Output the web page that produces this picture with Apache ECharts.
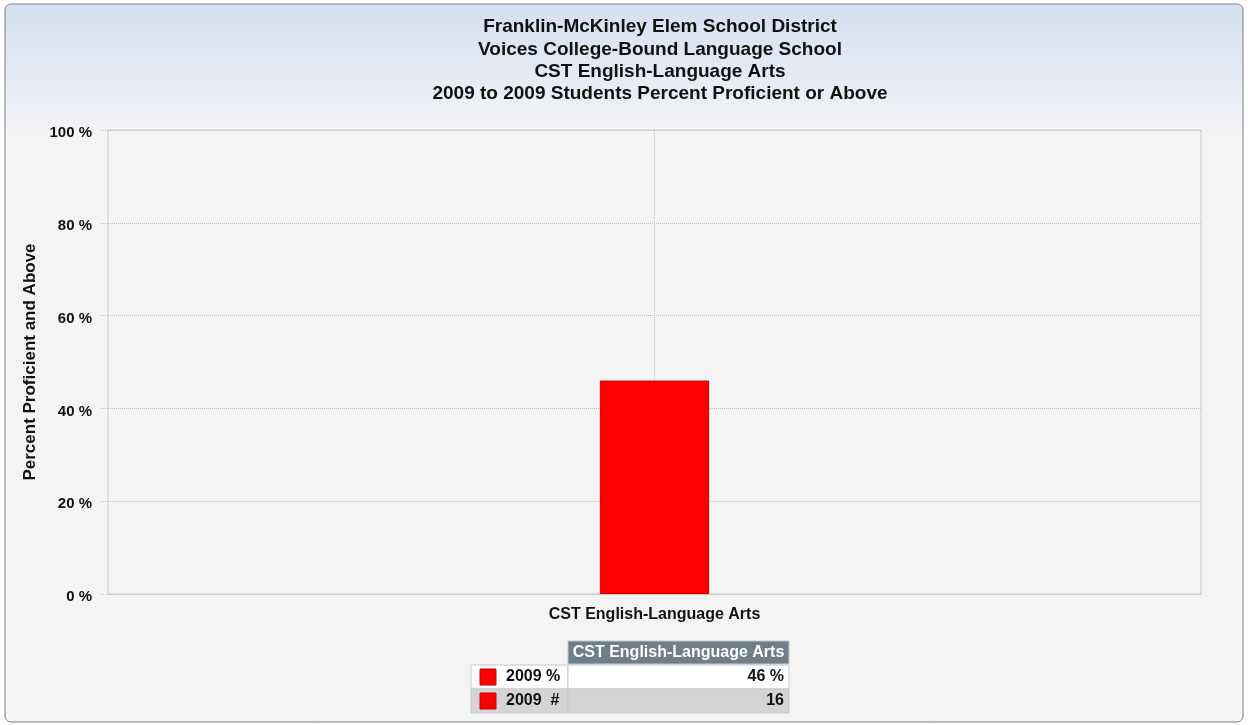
<!DOCTYPE html>
<html>
<head>
<meta charset="utf-8">
<script src="https://cdn.jsdelivr.net/npm/echarts@6/dist/echarts.min.js"></script>
<style>html,body{margin:0;padding:0;background:#fff;}#c{width:1248px;height:725px;}</style>
</head>
<body>
<div id="c"></div>
<script>
var titleLines = ['Franklin-McKinley Elem School District','Voices College-Bound Language School','CST English-Language Arts','2009 to 2009 Students Percent Proficient or Above'];
var categories = ['CST English-Language Arts'];
var seriesName = '2009 %';
var percentValues = [46];
var countName = '2009  #';
var countValues = [16];
var yTicks = [0, 20, 40, 60, 80, 100];
var yAxisName = 'Percent Proficient and Above';

var FONT = 'Liberation Sans, Arial, sans-serif';
var chart = echarts.init(document.getElementById('c'));

var tbl = {x0: 471, x1: 568, x2: 789, yH: 641, h: 24};
var graphics = [
  {type:'rect', z:-100, shape:{x:5,y:4,width:1238,height:718,r:6},
   style:{stroke:'#7f7f7f', lineWidth:1,
     fill:new echarts.graphic.LinearGradient(0,0,0,1,[{offset:0,color:'#d5dff0'},{offset:0.18,color:'#f3f4f6'},{offset:1,color:'#f4f4f4'}])}},
  // header
  {type:'rect', shape:{x:tbl.x1,y:tbl.yH,width:tbl.x2-tbl.x1,height:tbl.h-1}, style:{fill:'#6f7e89', stroke:'#c8c8c8', lineWidth:1}},
  {type:'text', style:{x:(tbl.x1+tbl.x2)/2, y:tbl.yH+12, text:categories[0], fill:'#fff', font:'bold 16px '+FONT, align:'center', verticalAlign:'middle'}},
  // row 1
  {type:'rect', shape:{x:tbl.x0,y:tbl.yH+tbl.h,width:tbl.x1-tbl.x0,height:tbl.h}, style:{fill:'#fff', stroke:'#c8c8c8', lineWidth:1}},
  {type:'rect', shape:{x:tbl.x1,y:tbl.yH+tbl.h,width:tbl.x2-tbl.x1,height:tbl.h}, style:{fill:'#fff', stroke:'#c8c8c8', lineWidth:1}},
  {type:'rect', shape:{x:480,y:tbl.yH+tbl.h+4,width:16,height:16}, style:{fill:'#ff0000', stroke:'#cc0000', lineWidth:1}},
  {type:'text', style:{x:506, y:tbl.yH+tbl.h+12, text:seriesName, fill:'#111', font:'bold 16px '+FONT, verticalAlign:'middle'}},
  {type:'text', style:{x:tbl.x2-5, y:tbl.yH+tbl.h+12, text:percentValues[0]+' %', fill:'#111', font:'bold 16px '+FONT, align:'right', verticalAlign:'middle'}},
  // row 2
  {type:'rect', shape:{x:tbl.x0,y:tbl.yH+2*tbl.h,width:tbl.x1-tbl.x0,height:tbl.h}, style:{fill:'#d4d4d4', stroke:'#c8c8c8', lineWidth:1}},
  {type:'rect', shape:{x:tbl.x1,y:tbl.yH+2*tbl.h,width:tbl.x2-tbl.x1,height:tbl.h}, style:{fill:'#d4d4d4', stroke:'#c8c8c8', lineWidth:1}},
  {type:'rect', shape:{x:480,y:tbl.yH+2*tbl.h+4,width:16,height:16}, style:{fill:'#ff0000', stroke:'#cc0000', lineWidth:1}},
  {type:'text', style:{x:506, y:tbl.yH+2*tbl.h+12, text:countName, fill:'#111', font:'bold 16px '+FONT, verticalAlign:'middle'}},
  {type:'text', style:{x:tbl.x2-5, y:tbl.yH+2*tbl.h+12, text:String(countValues[0]), fill:'#111', font:'bold 16px '+FONT, align:'right', verticalAlign:'middle'}}
];

chart.setOption({
  animation:false,
  backgroundColor:'transparent',
  title:{text:titleLines.join('\n'), left:655, top:11, textAlign:'center',
    textStyle:{fontFamily:FONT, fontWeight:'bold', fontSize:19, lineHeight:22.3, color:'#111'}},
  grid:{left:108, right:47, top:130, bottom:131, show:true, borderColor:'#c8c8c8', borderWidth:1, backgroundColor:'#f4f4f4'},
  xAxis:{type:'category', data:categories,
    axisLine:{lineStyle:{color:'#c8c8c8'}},
    axisTick:{alignWithLabel:true, length:8, lineStyle:{color:'#c0c0c0', type:'dotted'}},
    axisLabel:{fontFamily:FONT, fontWeight:'bold', fontSize:16, color:'#111', margin:13},
    splitLine:{show:false}},
  yAxis:{type:'value', min:yTicks[0], max:yTicks[yTicks.length-1], interval:20,
    name:yAxisName, nameLocation:'middle', nameGap:68,
    nameTextStyle:{fontFamily:FONT, fontWeight:'bold', fontSize:17, color:'#111'},
    axisLine:{show:false},
    axisTick:{show:true, length:8, lineStyle:{color:'#c0c0c0', type:'dotted'}},
    axisLabel:{formatter:function(v){return '{a|' + v + ' %}';}, color:'#111', margin:16,
      rich:{a:{fontFamily:FONT, fontWeight:'bold', fontSize:15, color:'#111', padding:[6,0,0,0]}}},
    splitLine:{lineStyle:{color:'#c0c0c0', type:'dotted'}}},
  series:[{type:'bar', name:seriesName, data:percentValues, barWidth:'10%',
    itemStyle:{color:'#ff0000', borderColor:'#cc0000', borderWidth:1},
    markLine:{silent:true, symbol:'none', label:{show:false}, z:1,
      lineStyle:{color:'#c0c0c0', type:'dotted', width:1},
      data:[{xAxis:categories[0]}]}}],
  graphic:graphics
});
</script>
</body>
</html>
